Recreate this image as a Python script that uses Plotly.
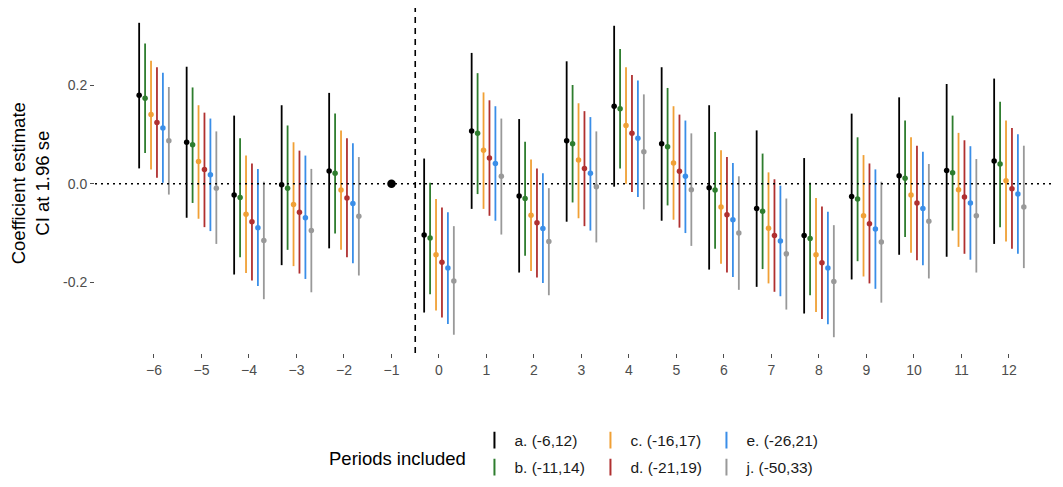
import plotly.graph_objects as go

# Event-time periods (relative to treatment); -1 is the omitted reference period
periods = [-6, -5, -4, -3, -2, 0, 1, 2, 3, 4, 5, 6, 7, 8, 9, 10, 11, 12]
ref_period = -1
ref_value = 0.0

series_names = ['a. (-6,12)', 'b. (-11,14)', 'c. (-16,17)',
                'd. (-21,19)', 'e. (-26,21)', 'j. (-50,33)']
series_colors = ['#000000', '#2e7d2e', '#f0a035', '#b03030', '#3a8ee8', '#999999']

# Point estimates
est_a = [0.179, 0.084, -0.023, -0.002, 0.026, -0.104, 0.107, -0.025, 0.087,
         0.157, 0.081, -0.008, -0.050, -0.105, -0.026, 0.016, 0.027, 0.046]
est_b = [0.173, 0.079, -0.028, -0.009, 0.021, -0.110, 0.102, -0.030, 0.081,
         0.152, 0.075, -0.013, -0.056, -0.111, -0.031, 0.011, 0.022, 0.040]
est_c = [0.140, 0.045, -0.062, -0.042, -0.013, -0.144, 0.068, -0.064, 0.048,
         0.118, 0.042, -0.047, -0.090, -0.144, -0.065, -0.023, -0.012, 0.006]
est_d = [0.124, 0.029, -0.077, -0.058, -0.029, -0.159, 0.052, -0.079, 0.031,
         0.102, 0.025, -0.063, -0.105, -0.160, -0.081, -0.039, -0.027, -0.010]
est_e = [0.113, 0.018, -0.089, -0.069, -0.040, -0.171, 0.041, -0.091, 0.021,
         0.092, 0.015, -0.073, -0.116, -0.171, -0.092, -0.050, -0.039, -0.021]
est_j = [0.087, -0.009, -0.115, -0.095, -0.066, -0.197, 0.015, -0.117, -0.006,
         0.065, -0.012, -0.100, -0.142, -0.198, -0.118, -0.076, -0.065, -0.047]

# Upper CI bounds (estimate + 1.96 se)
hi_a = [0.326, 0.237, 0.138, 0.159, 0.184, 0.051, 0.265, 0.131, 0.248,
        0.320, 0.236, 0.159, 0.108, 0.052, 0.142, 0.175, 0.202, 0.213]
hi_b = [0.284, 0.195, 0.092, 0.118, 0.142, 0.002, 0.224, 0.085, 0.200,
        0.273, 0.194, 0.105, 0.061, 0.002, 0.094, 0.128, 0.138, 0.166]
hi_c = [0.249, 0.159, 0.057, 0.084, 0.108, -0.031, 0.185, 0.049, 0.163,
        0.236, 0.157, 0.068, 0.023, -0.029, 0.058, 0.094, 0.103, 0.128]
hi_d = [0.236, 0.144, 0.041, 0.067, 0.092, -0.048, 0.169, 0.031, 0.147,
        0.220, 0.140, 0.054, 0.009, -0.046, 0.041, 0.077, 0.088, 0.113]
hi_e = [0.225, 0.132, 0.030, 0.057, 0.082, -0.058, 0.157, 0.021, 0.135,
        0.209, 0.128, 0.042, -0.004, -0.057, 0.029, 0.065, 0.076, 0.100]
hi_j = [0.196, 0.106, 0.004, 0.030, 0.054, -0.086, 0.132, -0.009, 0.106,
        0.181, 0.102, 0.015, -0.030, -0.084, 0.004, 0.040, 0.050, 0.077]

# Lower CI bounds (estimate - 1.96 se)
lo_a = [0.031, -0.069, -0.184, -0.165, -0.131, -0.261, -0.051, -0.180, -0.077,
        -0.006, -0.075, -0.174, -0.209, -0.263, -0.194, -0.144, -0.148, -0.122]
lo_b = [0.062, -0.039, -0.149, -0.134, -0.101, -0.224, -0.021, -0.146, -0.038,
        0.031, -0.044, -0.132, -0.173, -0.226, -0.157, -0.108, -0.095, -0.088]
lo_c = [0.029, -0.071, -0.181, -0.167, -0.134, -0.257, -0.051, -0.177, -0.070,
        0.000, -0.073, -0.162, -0.202, -0.260, -0.188, -0.140, -0.128, -0.117]
lo_d = [0.012, -0.088, -0.196, -0.182, -0.149, -0.271, -0.065, -0.190, -0.086,
        -0.017, -0.089, -0.180, -0.219, -0.274, -0.202, -0.155, -0.142, -0.132]
lo_e = [0.002, -0.096, -0.207, -0.193, -0.161, -0.284, -0.075, -0.201, -0.095,
        -0.027, -0.100, -0.189, -0.228, -0.285, -0.213, -0.165, -0.154, -0.142]
lo_j = [-0.022, -0.122, -0.234, -0.220, -0.186, -0.306, -0.103, -0.226, -0.119,
        -0.052, -0.126, -0.215, -0.255, -0.311, -0.241, -0.192, -0.180, -0.171]

estimates = [est_a, est_b, est_c, est_d, est_e, est_j]
uppers = [hi_a, hi_b, hi_c, hi_d, hi_e, hi_j]
lowers = [lo_a, lo_b, lo_c, lo_d, lo_e, lo_j]

# position_dodge-like offsets (width 0.75 split across 6 series)
dodge_width = 0.75
n_series = len(series_names)

fig = go.Figure()

for i, name in enumerate(series_names):
    offset = (i - (n_series - 1) / 2) * dodge_width / n_series
    est = estimates[i]
    fig.add_trace(go.Scatter(
        x=[p + offset for p in periods], y=est,
        mode='markers', name=name, showlegend=False,
        marker=dict(color=series_colors[i], size=5.5),
        error_y=dict(type='data', symmetric=False,
                     array=[h - e for h, e in zip(uppers[i], est)],
                     arrayminus=[e - l for e, l in zip(est, lowers[i])],
                     color=series_colors[i], thickness=1.8, width=0)))

# Reference period point
fig.add_trace(go.Scatter(x=[ref_period], y=[ref_value], mode='markers',
                         showlegend=False,
                         marker=dict(color='black', size=8.5)))

# Legend entries: two rows (a c e / b d j), like ggplot's column-wise legend
row_of = [1, 2, 1, 2, 1, 2]
for i, name in enumerate(series_names):
    fig.add_trace(go.Scatter(
        x=[None], y=[None], mode='markers', name=name,
        legend='legend' if row_of[i] == 1 else 'legend2',
        marker=dict(symbol='line-ns', size=18, color=series_colors[i],
                    line=dict(color=series_colors[i], width=2))))

fig.add_hline(y=0, line=dict(color='black', width=1.6, dash='2px,4px'))
fig.add_vline(x=-0.5, line=dict(color='black', width=1.6, dash='6px,5px'))

legend_style = dict(orientation='h', xanchor='left', yanchor='middle',
                    font=dict(family='Liberation Sans', size=15.5, color='#1a1a1a'),
                    entrywidth=71, entrywidthmode='pixels',
                    bgcolor='rgba(0,0,0,0)', itemsizing='constant',
                    traceorder='normal')

# page body adds an 8px offset, so the figure is drawn 8px smaller
fig.update_layout(
    width=1055, height=479,
    margin=dict(l=87, r=0, t=0, b=134.4, autoexpand=False),
    plot_bgcolor='white', paper_bgcolor='white',
    font=dict(family='Liberation Sans', color='#4d4d4d'),
    xaxis=dict(range=[-7.242, 13.137], tickmode='array',
               tickvals=[-6, -5, -4, -3, -2, -1] + periods[5:],
               ticks='outside', ticklen=4, tickcolor='#4d4d4d',
               showgrid=False, zeroline=False, showline=False,
               tickfont=dict(size=14, color='#4d4d4d')),
    yaxis=dict(range=[-0.343, 0.356], tickvals=[-0.2, 0.0, 0.2],
               ticktext=['-0.2', '0.0', '0.2'],
               ticks='outside', ticklen=4, tickcolor='#4d4d4d',
               showgrid=False, zeroline=False, showline=False,
               tickfont=dict(size=14, color='#4d4d4d')),
    legend=dict(x=0.392, y=-0.2536, **legend_style),
    legend2=dict(x=0.392, y=-0.332, **legend_style),
    annotations=[
        dict(text='Periods included', xref='paper', yref='paper',
             x=0.312, y=-0.306, xanchor='center', yanchor='middle',
             showarrow=False,
             font=dict(size=18.5, color='black', family='Liberation Sans')),
        dict(text='Coefficient estimate<br>CI at 1.96 se', xref='paper',
             yref='paper', x=-0.0671, y=0.492, xanchor='center',
             yanchor='middle', textangle=-90, showarrow=False,
             font=dict(size=18.5, color='black', family='Liberation Sans')),
    ],
)

fig.write_html("out.html")
